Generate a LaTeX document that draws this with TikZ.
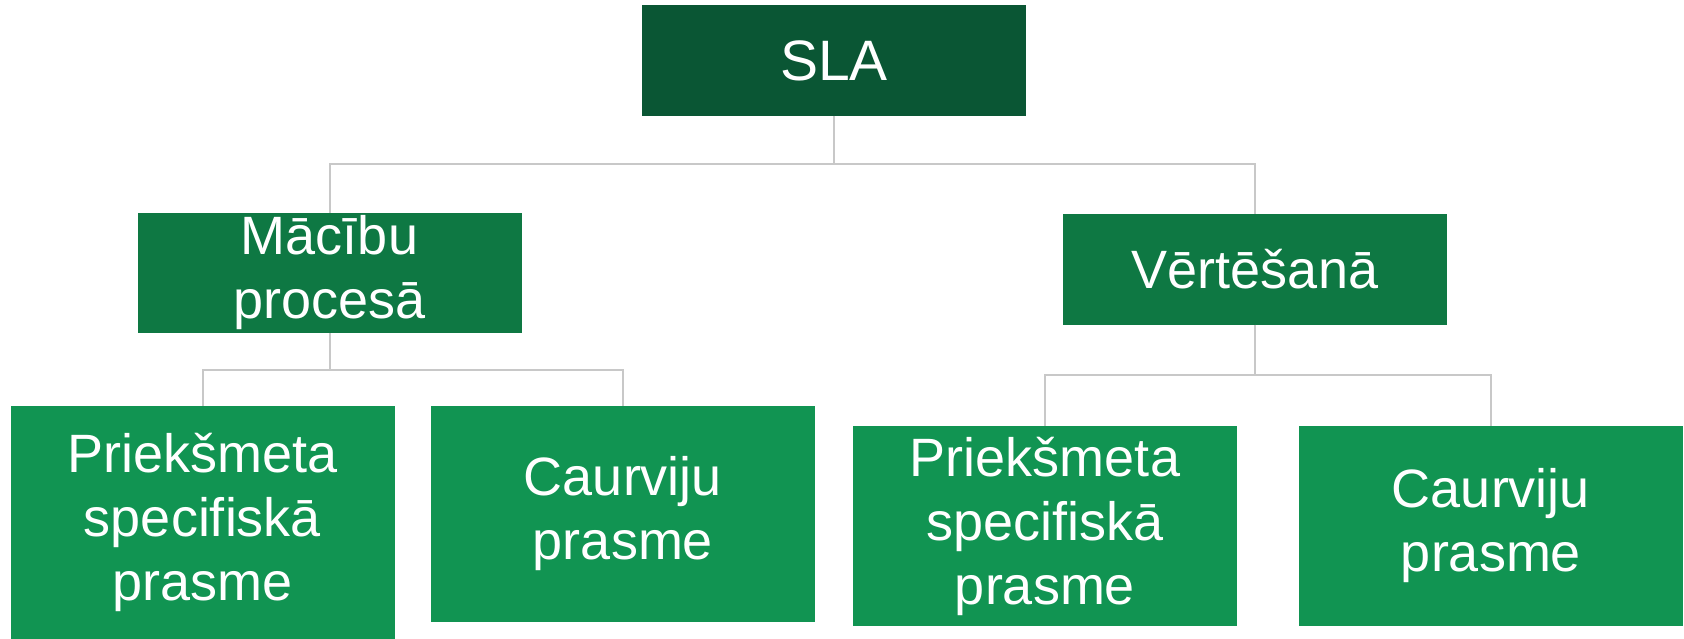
\documentclass[tikz,border=0pt]{standalone}
\usepackage{fontspec}
\setmainfont{Liberation Sans}
\definecolor{topgreen}{HTML}{0A5634}
\definecolor{midgreen}{HTML}{0E7843}
\definecolor{lowgreen}{HTML}{119452}
\definecolor{connc}{HTML}{C8C8C8}
\begin{document}
\begin{tikzpicture}[x=1pt,y=-1pt,
  box/.style={inner sep=0pt,outer sep=0pt,text=white,align=center},
  topbox/.style={box,fill=topgreen,minimum width=384pt,minimum height=111pt,font=\fontsize{57}{68}\selectfont},
  midbox/.style={box,fill=midgreen,minimum width=384pt,font=\fontsize{54}{64}\selectfont},
  lowbox/.style={box,fill=lowgreen,minimum width=384pt,font=\fontsize{54}{64}\selectfont},
  conn/.style={draw=connc,line width=2pt}]
\useasboundingbox (0,0) rectangle (1684,639);
\node[topbox] (sla) at (834,60.5) {SLA};
\node[midbox,minimum height=120pt] (mac) at (329.5,273) {Mācību\\procesā};
\node[midbox,minimum height=110pt] (vert) at (1255,269.5) {Vērtēšanā};
\node[lowbox,minimum height=233pt] (l1) at (202.5,522.5) {Priekšmeta\\specifiskā\\prasme};
\node[lowbox,minimum height=216pt] (l2) at (623,514) {Caurviju\\prasme};
\node[lowbox,minimum height=200pt] (r1) at (1045,526) {Priekšmeta\\specifiskā\\prasme};
\node[lowbox,minimum height=200pt] (r2) at (1491,526) {Caurviju\\prasme};
\coordinate (j0) at (834,164);
\coordinate (j1) at (329.5,370);
\coordinate (j2) at (1255,375);
\draw[conn] (sla.south) -- (j0);
\draw[conn] (j0) -| (mac.north);
\draw[conn] (j0) -| (vert.north);
\draw[conn] (mac.south) -- (j1);
\draw[conn] (j1) -| (l1.north);
\draw[conn] (j1) -| (l2.north);
\draw[conn] (vert.south) -- (j2);
\draw[conn] (j2) -| (r1.north);
\draw[conn] (j2) -| (r2.north);
\end{tikzpicture}
\end{document}
